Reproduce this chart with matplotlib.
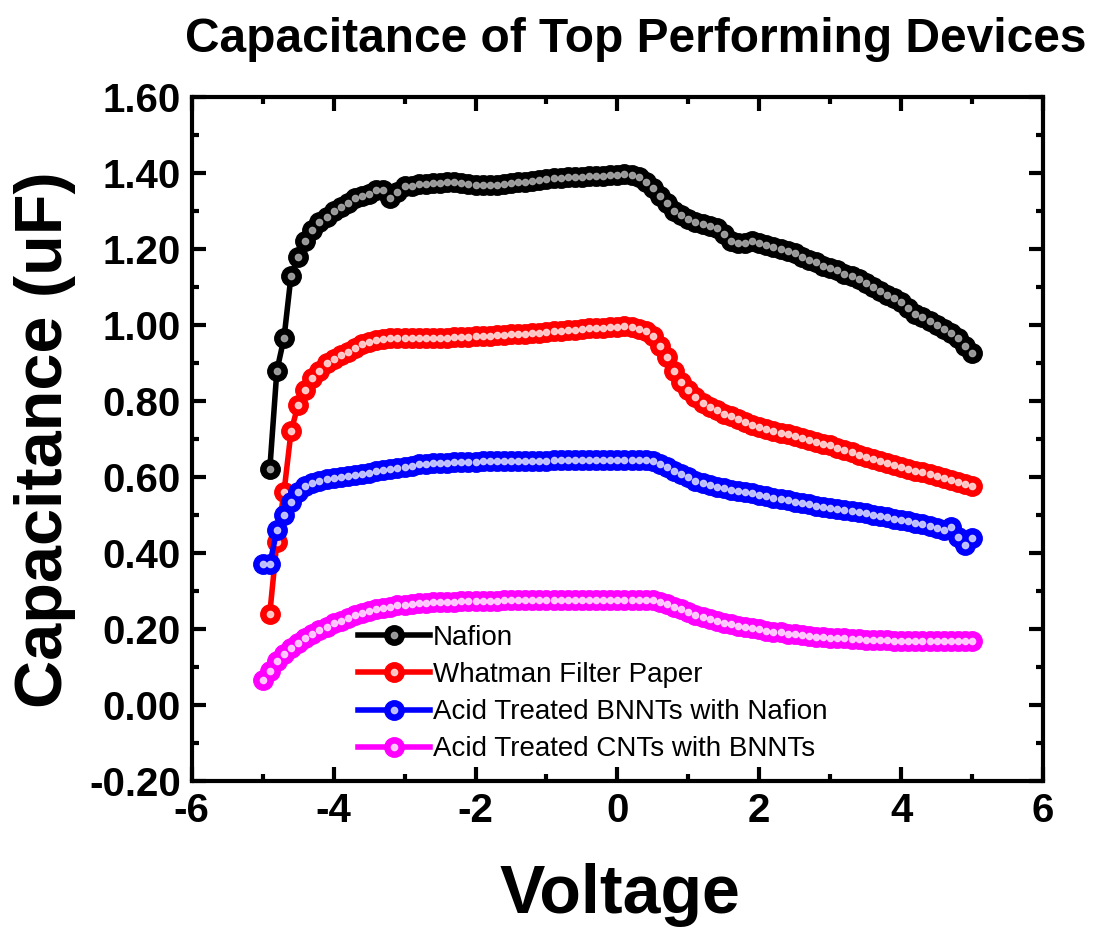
import numpy as np
import matplotlib
matplotlib.use("Agg")
import matplotlib.pyplot as plt
from matplotlib.ticker import MultipleLocator, FormatStrFormatter

plt.rcParams["font.family"] = ["Liberation Sans", "DejaVu Sans"]
plt.rcParams["axes.unicode_minus"] = False

# voltage sweep, 0.1 V steps from -5 to 5
voltage = np.round(np.arange(-50, 51) / 10, 1)

# Nafion starts at -4.9 V
nafion = [0.62, 0.88, 0.965, 1.13, 1.18, 1.22, 1.25, 1.27, 1.285, 1.30,
          1.31, 1.32, 1.335, 1.34, 1.345, 1.355, 1.355, 1.335, 1.35, 1.365,
          1.367, 1.37, 1.372, 1.373, 1.374, 1.375, 1.375, 1.373, 1.37, 1.368,
          1.368, 1.368, 1.369, 1.371, 1.373, 1.375, 1.377, 1.38, 1.382, 1.385,
          1.387, 1.388, 1.39, 1.39, 1.39, 1.392, 1.393, 1.393, 1.394, 1.395,
          1.396, 1.395, 1.39, 1.375, 1.36, 1.34, 1.32, 1.30, 1.29, 1.28,
          1.27, 1.265, 1.26, 1.255, 1.24, 1.22, 1.215, 1.215, 1.22, 1.215,
          1.21, 1.205, 1.20, 1.195, 1.19, 1.18, 1.17, 1.165, 1.155, 1.15,
          1.145, 1.135, 1.13, 1.12, 1.11, 1.10, 1.09, 1.08, 1.07, 1.06,
          1.045, 1.03, 1.02, 1.01, 1.00, 0.99, 0.98, 0.965, 0.945, 0.925]

# Whatman starts at -4.9 V
whatman = [0.24, 0.43, 0.56, 0.72, 0.79, 0.83, 0.86, 0.88, 0.90, 0.91,
           0.92, 0.93, 0.94, 0.95, 0.955, 0.96, 0.963, 0.965, 0.965, 0.965,
           0.965, 0.965, 0.965, 0.966, 0.967, 0.967, 0.968, 0.968, 0.969, 0.97,
           0.971, 0.972, 0.973, 0.974, 0.975, 0.976, 0.977, 0.978, 0.98, 0.981,
           0.983, 0.985, 0.986, 0.988, 0.99, 0.991, 0.992, 0.993, 0.994, 0.995,
           0.996, 0.995, 0.99, 0.985, 0.97, 0.945, 0.915, 0.88, 0.85, 0.83,
           0.81, 0.795, 0.785, 0.775, 0.765, 0.76, 0.752, 0.745, 0.738, 0.732,
           0.727, 0.722, 0.717, 0.712, 0.707, 0.703, 0.698, 0.693, 0.688, 0.683,
           0.677, 0.671, 0.665, 0.659, 0.653, 0.647, 0.642, 0.637, 0.632, 0.627,
           0.622, 0.617, 0.612, 0.607, 0.602, 0.597, 0.592, 0.587, 0.582, 0.577]

# Acid treated BNNTs with Nafion, from -5.0 V
bnnt_nafion = [0.37, 0.37, 0.46, 0.50, 0.535, 0.56, 0.575, 0.585, 0.59, 0.595,
               0.597, 0.60, 0.602, 0.605, 0.608, 0.61, 0.615, 0.618, 0.62, 0.623,
               0.627, 0.63, 0.633, 0.635, 0.636, 0.637, 0.638, 0.639, 0.64, 0.64,
               0.64, 0.641, 0.641, 0.641, 0.642, 0.642, 0.642, 0.643, 0.643, 0.643,
               0.643, 0.644, 0.644, 0.644, 0.644, 0.645, 0.645, 0.645, 0.645, 0.645,
               0.645, 0.646, 0.646, 0.646, 0.646, 0.643, 0.635, 0.625, 0.615, 0.607,
               0.60, 0.59, 0.583, 0.578, 0.574, 0.57, 0.566, 0.563, 0.56, 0.557,
               0.553, 0.55, 0.546, 0.543, 0.539, 0.535, 0.531, 0.528, 0.524, 0.521,
               0.518, 0.516, 0.513, 0.51, 0.508, 0.505, 0.501, 0.498, 0.494, 0.49,
               0.487, 0.483, 0.479, 0.475, 0.47, 0.465, 0.46, 0.468, 0.443, 0.42, 0.44]

# Acid treated CNTs with BNNTs, from -5.0 V
cnt_bnnt = [0.066, 0.09, 0.115, 0.135, 0.15, 0.163, 0.176, 0.187, 0.197, 0.206,
            0.215, 0.222, 0.23, 0.237, 0.243, 0.248, 0.252, 0.256, 0.259, 0.262,
            0.264, 0.266, 0.268, 0.269, 0.27, 0.271, 0.272, 0.272, 0.273, 0.273,
            0.273, 0.274, 0.274, 0.274, 0.275, 0.275, 0.275, 0.275, 0.276, 0.276,
            0.276, 0.276, 0.276, 0.277, 0.277, 0.277, 0.277, 0.277, 0.277, 0.277,
            0.277, 0.277, 0.277, 0.277, 0.276, 0.275, 0.272, 0.266, 0.259, 0.252,
            0.245, 0.238, 0.232, 0.226, 0.221, 0.217, 0.213, 0.209, 0.205, 0.202,
            0.199, 0.196, 0.193, 0.191, 0.188, 0.186, 0.184, 0.182, 0.18, 0.178,
            0.177, 0.176, 0.175, 0.174, 0.173, 0.171, 0.171, 0.170, 0.170, 0.169,
            0.169, 0.169, 0.168, 0.168, 0.168, 0.168, 0.168, 0.168, 0.168, 0.168, 0.168]

labels = ["Nafion", "Whatman Filter Paper",
          "Acid Treated BNNTs with Nafion", "Acid Treated CNTs with BNNTs"]
colors = ["black", "#ff0000", "#0000ff", "#ff00ff"]
shines = ["#a8a8a8", "#ffd8d8", "#d0d0ff", "#ffd8ff"]

fig = plt.figure(figsize=(11.02, 9.35), dpi=100)
ax = fig.add_axes([0.174, 0.1647, 0.7725, 0.7316])

series = [(voltage[1:], nafion), (voltage[1:], whatman),
          (voltage, bnnt_nafion), (voltage, cnt_bnnt)]

handles = []
for (v, c), col, sh, lab in zip(series, colors, shines, labels):
    h1, = ax.plot(v, c, "-o", color=col, lw=4, ms=14, mec=col, label=lab)
    h2, = ax.plot(v, c, "o", color=sh, ms=4.5, mec=sh, alpha=0.9)
    handles.append((h1, h2))

ax.set_xlim(-6, 6)
ax.set_ylim(-0.2, 1.6)
ax.xaxis.set_major_locator(MultipleLocator(2))
ax.xaxis.set_minor_locator(MultipleLocator(1))
ax.yaxis.set_major_locator(MultipleLocator(0.2))
ax.yaxis.set_minor_locator(MultipleLocator(0.1))
ax.yaxis.set_major_formatter(FormatStrFormatter("%.2f"))

for s in ax.spines.values():
    s.set_linewidth(3)
ax.tick_params(which="both", direction="in", top=True, right=True, width=3)
ax.tick_params(which="major", length=10, labelsize=29, pad=8)
ax.tick_params(which="minor", length=5)
for t in ax.get_xticklabels() + ax.get_yticklabels():
    t.set_fontweight("bold")

fig.text(0.577, 0.958, "Capacitance of Top Performing Devices",
         fontsize=34.5, fontweight="bold", ha="center", va="center")
fig.text(0.041, 0.53, "Capacitance (uF)", fontsize=48, fontweight="bold",
         rotation=90, ha="center", va="center")
fig.text(0.563, 0.043, "Voltage", fontsize=49, fontweight="bold",
         ha="center", va="center")

leg = ax.legend(handles, labels, loc="upper left", bbox_to_anchor=(0.195, 0.228),
                frameon=False, fontsize=20, numpoints=1, handlelength=2.6,
                handletextpad=0.1, labelspacing=0.4, borderpad=0, borderaxespad=0)
for hl in leg.legend_handles:
    pass

fig.savefig("out.png", dpi=100)
